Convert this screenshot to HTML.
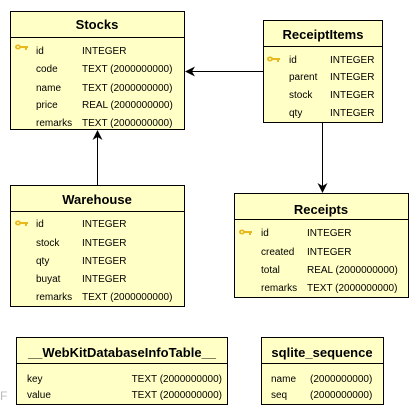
<!DOCTYPE html>
<html><head><meta charset="utf-8"><style>
html,body{margin:0;padding:0;background:#fff;width:420px;height:415px;overflow:hidden}
svg{display:block}
text{font-family:"Liberation Sans",sans-serif;fill:#000}
.h{font-weight:bold;font-size:13px}
.r{font-size:10px}
</style></head><body>
<svg width="420" height="415" viewBox="0 0 420 415" xmlns="http://www.w3.org/2000/svg">
<defs>
<g id="key"><ellipse cx="3" cy="3" rx="3" ry="2.5" fill="#e8b820"/><rect x="5" y="2" width="8" height="2" fill="#e8b820"/><rect x="10" y="3" width="2" height="3" fill="#e8b820"/><ellipse cx="3" cy="3" rx="1.2" ry="1" fill="#fff4a0"/></g>
</defs>
<text x="0" y="400" font-size="12" style="fill:#bbb">F</text>
<g stroke="#000" stroke-width="1" fill="#ffffc6">
<rect x="10.5" y="11.5" width="174" height="118"/>
<rect x="263.5" y="20.5" width="119" height="102"/>
<rect x="10.5" y="185.5" width="174" height="121"/>
<rect x="234.5" y="193.5" width="174" height="104"/>
<rect x="16.5" y="337.5" width="211" height="67"/>
<rect x="261.5" y="337.5" width="122" height="67"/>
<line x1="10" y1="37.5" x2="185" y2="37.5"/>
<line x1="263" y1="46.5" x2="383" y2="46.5"/>
<line x1="10" y1="211.5" x2="185" y2="211.5"/>
<line x1="234" y1="219.5" x2="409" y2="219.5"/>
<line x1="16" y1="363.5" x2="228" y2="363.5"/>
<line x1="261" y1="363.5" x2="384" y2="363.5"/>
<line x1="263" y1="71.5" x2="188" y2="71.5"/>
<line x1="97.5" y1="185" x2="97.5" y2="134"/>
<line x1="322.5" y1="122" x2="322.5" y2="188"/>
</g>
<g fill="#000">
<polygon points="185,71.5 195,66.5 192,71.5 195,76.5"/>
<polygon points="97.5,130 92.5,140 97.5,137 102.5,140"/>
<polygon points="322.5,193 317.5,183 322.5,186 327.5,183"/>
</g>
<text class="h" x="97" y="29" text-anchor="middle">Stocks</text>
<use href="#key" x="15" y="44"/>
<g class="r">
<text x="36" y="54">id</text><text x="82" y="54">INTEGER</text>
<text x="36" y="72">code</text><text x="82" y="72">TEXT (2000000000)</text>
<text x="36" y="91">name</text><text x="82" y="91">TEXT (2000000000)</text>
<text x="36" y="108">price</text><text x="82" y="108">REAL (2000000000)</text>
<text x="36" y="126">remarks</text><text x="82" y="126">TEXT (2000000000)</text>
</g>
<text class="h" x="323" y="39" text-anchor="middle">ReceiptItems</text>
<use href="#key" x="267" y="56"/>
<g class="r">
<text x="289" y="63">id</text><text x="330" y="63">INTEGER</text>
<text x="289" y="80">parent</text><text x="330" y="80">INTEGER</text>
<text x="289" y="98">stock</text><text x="330" y="98">INTEGER</text>
<text x="289" y="116">qty</text><text x="330" y="116">INTEGER</text>
</g>
<text class="h" x="97" y="204" text-anchor="middle">Warehouse</text>
<use href="#key" x="15" y="220"/>
<g class="r">
<text x="36" y="227">id</text><text x="82" y="227">INTEGER</text>
<text x="36" y="246">stock</text><text x="82" y="246">INTEGER</text>
<text x="36" y="264">qty</text><text x="82" y="264">INTEGER</text>
<text x="36" y="282">buyat</text><text x="82" y="282">INTEGER</text>
<text x="36" y="300">remarks</text><text x="82" y="300">TEXT (2000000000)</text>
</g>
<text class="h" x="321" y="214" text-anchor="middle">Receipts</text>
<use href="#key" x="239" y="229"/>
<g class="r">
<text x="261" y="236">id</text><text x="307" y="236">INTEGER</text>
<text x="261" y="255">created</text><text x="307" y="255">INTEGER</text>
<text x="261" y="273">total</text><text x="307" y="273">REAL (2000000000)</text>
<text x="261" y="291">remarks</text><text x="307" y="291">TEXT (2000000000)</text>
</g>
<text class="h" x="122" y="357" text-anchor="middle">__WebKitDatabaseInfoTable__</text>
<g class="r">
<text x="27" y="382">key</text><text x="222" y="382" text-anchor="end">TEXT (2000000000)</text>
<text x="27" y="398">value</text><text x="222" y="398" text-anchor="end">TEXT (2000000000)</text>
</g>
<text class="h" x="322" y="357" text-anchor="middle">sqlite_sequence</text>
<g class="r">
<text x="271" y="382">name</text><text x="310" y="382">(2000000000)</text>
<text x="271" y="398">seq</text><text x="310" y="398">(2000000000)</text>
</g>
</svg>
</body></html>
